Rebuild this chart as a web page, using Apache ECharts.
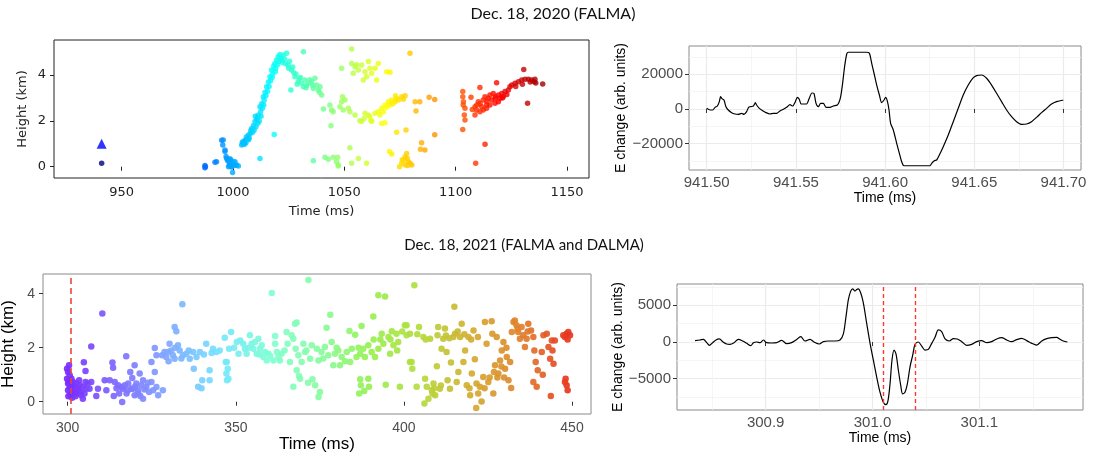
<!DOCTYPE html>
<html>
<head>
<meta charset="utf-8">
<script src="https://cdn.jsdelivr.net/npm/echarts@6/dist/echarts.min.js"></script>
<style>html,body{margin:0;padding:0;background:#fff;}#c{width:1094px;height:459px;}</style>
</head>
<body>
<div id="c"></div>
<script>
// ---------------- DATA ----------------
const title2020 = 'Dec. 18, 2020 (FALMA)';
const title2021 = 'Dec. 18, 2021 (FALMA and DALMA)';

// Panel 1: 2020 source heights [time ms, height km]
const p1Triangle = [[941.0, 1.0]];
const p1Points = [
  [941.0,0.15],
  [987.4,0.05],[987.4,-0.05],[987.6,0.0],[991.9,0.19],[992.6,0.22],
  [994.9,1.16],[995.4,0.95],[995.6,1.17],[996.4,0.73],[996.4,0.66],[996.9,0.45],[997.1,0.36],[997.6,0.26],[997.9,0.29],[998.0,0.0],[998.3,0.06],[998.6,0.35],[998.6,0.15],[999.3,0.0],[999.4,0.0],[999.8,-0.25],[1000.0,0.1],[1000.1,0.22],[1000.9,0.22],[1001.6,0.06],[1001.6,0.07],[1002.4,0.03],[999.0,0.3],[1000.5,0.05],
  [1003.9,0.95],[1004.5,1.0],[1005.0,1.1],[1005.4,1.16],[1005.8,1.05],[1006.4,1.2],[1006.9,1.38],[1007.3,1.25],[1007.8,1.45],[1008.4,1.67],[1008.8,1.5],[1009.2,1.8],[1009.9,1.97],[1010.3,1.75],[1010.6,2.05],[1011.0,2.15],[1011.4,2.26],[1011.8,2.0],[1012.1,2.62],[1012.4,2.4],[1012.9,2.75],[1013.2,2.55],[1013.6,3.06],[1014.0,2.9],[1014.4,3.25],[1015.1,3.49],[1015.5,3.3],[1015.9,3.7],[1016.6,3.93],[1016.9,3.75],[1017.3,4.22],[1017.8,4.05],[1018.3,4.4],[1018.8,4.51],[1019.2,4.3],[1019.6,4.66],[1020.3,4.8],[1020.8,4.6],[1021.3,4.75],[1021.8,4.66],[1022.6,4.88],[1023.2,4.7],[1024.1,4.95],[1024.8,4.44],[1025.4,4.6],[1026.3,4.22],[1026.8,4.35],[1027.8,3.93],[1028.3,4.05],[1029.3,3.71],[1029.8,3.85],[1030.8,3.64],[1031.6,3.49],[1032.3,3.79],[1033.0,3.55],[1033.8,3.64],[1034.5,3.8],[1035.3,3.71],[1036.1,3.42],[1036.8,3.86],[1037.6,3.57],[1038.3,3.35],[1039.1,3.49],[1039.8,3.13],
  [1004.2,1.08],[1005.2,0.98],[1006.0,1.3],[1007.0,1.18],[1008.0,1.58],[1009.5,1.6],[1010.0,2.2],[1011.2,1.9],[1012.6,2.2],[1013.8,2.7],[1014.8,3.1],[1016.2,3.5],[1017.6,3.9],[1019.0,4.15],[1020.0,4.45],[1021.0,4.9],[1022.2,4.55],[1023.6,4.5],[1025.0,4.3],[1027.3,4.1],[1028.8,3.6],[1030.3,3.9],[1032.8,3.45],[1035.8,3.55],[1038.8,3.25],
  [1026.0,3.35],[1031.6,5.02],[1018.5,1.41],[1012.1,0.36],
  [1040.6,2.52],[1043.5,2.69],[1044.3,2.48],[1045.0,2.40],[1048.0,2.62],[1048.8,2.84],[1049.2,3.06],[1050.3,2.91],[1049.5,2.48],[1051.8,2.55],[1052.5,2.40],[1054.8,2.26],[1057.8,1.99],[1059.3,2.33],[1061.5,2.18],[1062.3,1.99],[1063.8,2.33],[1066.8,1.89],[1044.0,1.79],
  [1036.1,0.26],[1041.3,0.41],[1042.8,0.33],[1045.0,0.41],[1047.0,0.41],[1046.5,0.22],[1047.3,0.03],[1047.3,0.07],[1052.5,0.83],[1053.3,0.15],[1056.3,0.36],[1060.0,0.15],
  [1053.3,5.14],[1053.3,4.51],[1054.8,4.37],[1056.3,4.22],[1057.8,4.44],[1059.3,4.15],[1060.8,4.59],[1062.3,4.08],[1063.8,4.30],[1065.3,4.51],[1058.5,3.79],[1064.5,3.79],[1048.8,4.30],[1054.0,4.08],[1060.0,3.93],[1069.0,4.15],[1070.5,4.12],[1055.5,4.45],[1061.5,4.3],[1079.5,4.95],
  [1065.3,2.40],[1066.8,2.55],[1068.3,2.69],[1069.8,2.84],[1071.3,2.91],[1073.5,2.98],[1075.8,3.06],[1077.3,3.10],[1067.6,2.40],[1066.0,2.26],[1070.5,2.69],[1072.8,2.84],[1074.3,2.91],[1060.8,2.26],[1062.0,2.01],[1057.0,2.01],[1058.9,2.11],[1068.3,1.92],[1069.0,2.6],[1071.8,2.75],[1073.0,3.1],[1076.5,2.95],
  [1081.8,2.84],[1082.2,2.43],[1083.9,2.84],[1088.1,3.03],[1090.6,2.94],[1073.5,1.50],[1077.7,1.60],[1090.6,1.40],[1084.7,1.05],[1086.2,0.73],[1084.2,0.76],[1070.3,0.66],[1071.3,0.55],
  [1075.8,0.15],[1077.3,0.44],[1078.0,0.58],[1078.8,0.22],[1077.3,0.07],[1079.5,0.15],[1076.6,0.29],[1080.3,0.07],[1078.3,0.37],[1074.8,0.0],[1078.5,0.05],[1076.0,0.3],
  [1103.2,3.28],[1103.2,3.06],[1103.5,2.84],[1104.2,2.55],[1103.9,2.26],[1104.2,2.04],[1103.2,1.63],[1103.4,2.7],[1106.9,3.03],[1108.7,2.62],[1108.7,2.26],[1110.2,2.84],[1110.9,3.46],[1111.7,2.62],[1112.4,2.91],[1113.2,3.06],[1113.9,2.69],[1114.7,2.99],[1115.4,3.13],[1116.2,2.91],[1116.9,3.20],[1117.7,2.99],[1118.4,3.67],[1119.2,3.13],[1119.9,2.99],[1120.7,3.20],[1121.4,3.06],[1122.2,3.28],[1123.7,3.35],[1124.4,3.49],[1125.2,3.57],[1126.7,3.64],[1128.2,3.71],[1129.7,3.79],[1130.6,4.25],[1131.2,3.82],[1132.7,3.82],[1134.1,3.79],[1135.3,3.71],[1132.3,2.77],[1135.6,3.82],[1139.1,3.61],[1113.2,0.98],[1109.0,0.15],[1109.4,2.48],[1110.9,2.40],[1112.4,2.48],[1113.9,2.55],[1115.4,2.69],[1117.7,2.77],[1119.2,2.84],
  [1111.0,2.75],[1114.0,2.85],[1118.0,3.05],[1121.0,3.0],[1123.0,3.15],[1127.0,3.5],[1130.0,3.6],[1133.5,3.7],[1136.0,3.65],[1109.5,2.7],[1107.5,2.5]
];
const p1XTicks = [950, 1000, 1050, 1100, 1150];
const p1YTicks = [0, 2, 4];

// Panel 2: 2020 E-change waveform
const e2020Time = [941.5000,941.5019,941.5034,941.5047,941.5060,941.5071,941.5078,941.5086,941.5097,941.5108,941.5121,941.5140,941.5159,941.5177,941.5196,941.5209,941.5224,941.5235,941.5247,941.5262,941.5273,941.5280,941.5295,941.5314,941.5333,941.5355,941.5374,941.5392,941.5411,941.5430,941.5448,941.5467,941.5482,941.5497,941.5508,941.5519,941.5529,941.5545,941.5560,941.5575,941.5590,941.5601,941.5613,941.5626,941.5639,941.5654,941.5669,941.5691,941.5710,941.5732,941.5743,941.5751,941.5762,941.5773,941.5785,941.5794,941.5897,941.5912,941.5925,941.5938,941.5953,941.5968,941.5981,941.5994,941.6003,941.6012,941.6022,941.6031,941.6046,941.6065,941.6080,941.6093,941.6106,941.6252,941.6261,941.6276,941.6289,941.6304,941.6326,941.6354,941.6382,941.6410,941.6438,941.6466,941.6491,941.6513,941.6541,941.6569,941.6597,941.6625,941.6653,941.6681,941.6709,941.6737,941.6765,941.6793,941.6821,941.6849,941.6877,941.6905,941.6933,941.6961,941.6999];
const e2020Value = [385,-577,-577,960,1730,4230,7115,5960,5190,1350,-577,-2115,-2880,-3080,-2500,-3080,-1540,960,1350,1730,3650,2300,385,-960,-2115,-2880,-2500,-2500,-1150,-190,960,2500,1730,4230,6730,5580,2880,2880,2880,6150,9230,9040,3270,1350,3270,3270,960,960,1730,2300,4230,7115,14800,24400,31700,32700,32700,32100,26300,20600,13800,8080,3650,5190,6730,4800,-577,-8270,-12100,-19800,-25600,-30400,-32700,-32700,-31300,-29800,-29400,-26500,-21700,-15000,-7300,385,8080,13800,17700,19200,19600,17700,13800,9040,4230,-577,-4420,-7300,-8850,-8650,-7300,-4810,-2115,385,2880,4230,5190];
const p2XMajor = [941.50, 941.55, 941.60, 941.65, 941.70];
const p2XMinor = [941.525, 941.575, 941.625, 941.675];
const p2YMajor = [-20000, 0, 20000];
const p2YMinor = [-30000, -10000, 10000, 30000];

// Panel 3: 2021 source heights
const p3Points = [
  [300.4,1.35],[299.8,1.22],[300.1,1.10],[300.6,0.98],[299.8,0.85],[301.1,0.85],[300.1,0.67],[301.6,0.73],[302.6,0.67],[303.6,0.61],[302.1,0.48],[303.1,0.42],[304.5,0.54],[300.1,0.42],[301.1,0.30],[302.6,0.30],[304.0,0.24],[305.0,0.30],[305.5,0.48],[300.6,0.54],[301.6,0.36],[304.5,0.11],[306.0,0.67],[307.0,0.73],[306.5,0.48],[303.4,0.79],[305.3,0.73],[300.2,0.2],[300.8,0.25],[301.9,0.55],[302.9,0.5],[300.3,0.75],[300.9,0.62],[303.9,0.35],[301.3,0.15],[302.3,0.2],
  [310.3,3.27],[307.0,2.04],[304.8,1.46],[305.3,1.14],[309.0,0.48],[308.5,0.21],[311.0,0.79],[311.5,0.42],
  [313.3,1.45],[313.5,1.26],[312.5,0.79],[314.0,0.73],[315.0,0.61],[316.0,0.54],[313.7,0.21],[316.2,-0.01],[317.4,1.68],[317.0,0.61],[317.9,0.42],[318.6,1.10],[319.2,0.88],[319.4,0.48],[319.9,1.35],[320.4,0.67],[320.9,0.42],[321.4,1.04],[321.9,0.61],[322.4,0.79],[322.4,0.11],[323.4,0.54],[324.2,0.36],[324.9,0.73],[325.9,1.10],[325.4,0.42],[326.4,0.54],[326.9,0.24],[328.3,0.42],[324.9,1.47],[325.9,1.99],[326.4,1.72],[318.9,0.48],[318.0,0.67],[316.4,0.48],[315.3,0.30],[319.9,0.24],[321.6,0.21],[314.5,0.5],[320.0,0.55],[322.8,0.45],[323.8,0.7],[321.0,0.3],[317.5,0.3],
  [328.1,1.72],[328.8,1.84],[329.3,1.66],[330.3,2.15],[330.8,1.90],[331.3,1.72],[331.8,2.77],[332.3,2.61],[332.8,2.09],[333.3,1.90],[334.1,3.61],[334.3,1.72],[335.3,1.78],[336.3,1.59],[337.3,1.84],[338.3,1.66],[339.3,1.84],[337.5,1.22],[338.8,0.55],[340.0,0.79],[342.2,0.79],[342.2,1.16],[341.2,2.15],[343.2,1.96],[344.2,1.84],[345.2,1.90],[346.7,2.37],[347.0,1.47],[347.2,1.04],[347.4,0.79],[329.8,1.84],[331.8,1.59],[330.0,1.5],[332.0,2.0],[333.8,1.6],[336.0,1.9],[340.5,1.75],[342.8,1.8],[339.8,0.5],
  [347.3,1.47],[347.6,1.22],[347.8,0.85],[348.0,1.96],[348.6,2.58],[350.3,2.21],[350.8,1.78],[351.3,2.27],[352.2,2.15],[352.7,1.96],[353.2,1.78],[354.2,2.46],[354.7,2.15],[355.2,1.96],[355.7,2.21],[356.2,1.78],[356.7,2.33],[357.2,1.96],[357.7,2.09],[358.2,1.66],[358.7,1.84],[359.2,1.53],[359.7,1.78],[360.7,4.03],[361.2,1.53],[361.7,2.43],[361.7,2.15],[362.2,1.84],[362.7,1.66],[363.1,1.53],[363.6,1.78],[365.1,2.58],[365.4,2.15],[366.1,1.47],[366.6,2.46],[367.1,2.33],[367.6,2.89],[368.1,2.93],[367.8,1.96],[368.6,1.72],[368.1,1.16],[367.1,0.55],[369.1,0.85],[369.6,1.47],[370.1,2.15],[370.6,1.84],[371.6,4.51],[372.1,1.59],[372.6,2.09],[372.8,0.83],[373.6,0.61],[374.1,1.96],[374.6,1.53],[375.0,0.36],[374.6,0.17],[375.5,1.84],[376.5,2.03],[377.0,2.74],[377.5,1.72],[378.1,3.22],[378.5,2.21],[379.0,1.35],[379.5,1.78],[380.5,1.90],[381.0,1.35],[381.5,1.66],[383.0,1.84],[383.8,2.62],[384.0,1.47],[384.5,1.96],[385.5,2.48],[385.9,1.66],[387.0,1.78],[387.4,2.80],[387.0,0.83],[387.2,0.61],[386.7,0.30],[389.4,0.85],[389.6,0.55],[387.9,1.96],[388.4,1.66],[389.4,2.09],[390.4,1.84],[390.9,3.16],[391.4,1.66],[392.4,3.94],[392.4,1.96],[393.4,2.52],[393.9,2.15],[394.4,3.90],[394.6,0.63],[395.4,2.40],[395.9,1.78],[396.4,2.61],[396.9,2.09],[397.8,2.52],[398.3,2.21],[398.8,0.55],[400.3,2.83],[400.8,2.46],[401.8,1.47],
  [349.5,2.0],[353.8,2.0],[357.0,1.75],[360.2,1.7],[364.5,1.9],[371.0,1.9],[376.0,1.6],[380.0,2.0],[382.5,1.5],[386.5,2.0],[391.0,2.3],[393.0,2.3],[396.0,2.3],[398.0,1.9],[399.5,2.6],[368.8,0.95],[371.5,0.7],[388.2,0.4],
  [403.1,4.31],[415.0,3.52],[400.8,2.83],[401.8,2.52],[402.3,1.47],[402.5,1.22],[403.8,0.55],[404.5,2.77],[405.8,2.40],[406.3,0.85],[406.8,0.55],[407.3,0.11],[406.1,-0.07],[407.8,2.33],[408.3,0.42],[408.8,0.67],[409.3,0.24],[409.8,1.31],[410.0,2.46],[410.2,2.77],[410.7,0.48],[411.2,1.96],[411.7,2.33],[412.2,2.71],[412.7,1.84],[413.0,0.79],[413.7,0.48],[414.0,1.45],[414.7,2.40],[415.2,2.52],[415.7,0.73],[416.2,1.10],[416.7,2.40],[417.2,2.89],[417.7,1.47],[418.2,1.90],[418.7,0.61],[419.2,2.40],[419.7,0.24],[420.2,1.04],[420.7,2.64],[421.1,1.57],[421.5,-0.23],[421.6,0.67],[422.1,0.30],[422.6,0.55],[423.1,0.01],[423.6,0.91],[424.1,2.95],[424.6,2.15],[425.1,0.73],[426.1,2.98],[426.3,2.52],[426.6,0.30],[427.1,1.35],[427.6,2.40],[428.1,1.04],[428.6,1.53],[429.1,1.90],[429.6,2.21],[430.1,1.22],[430.6,1.66],[431.1,0.79],[431.6,1.47],[431.9,0.51],[432.1,2.58],[432.6,2.95],[433.0,3.01],[433.5,2.83],[434.0,2.58],[434.5,2.33],[435.0,2.77],[435.5,2.46],[436.0,2.03],[436.5,2.33],[437.0,2.89],[437.8,2.64],[438.5,2.40],[438.8,1.90],[439.2,1.47],[439.8,1.16],[438.5,0.73],[439.5,0.55],[441.0,1.84],[441.5,2.46],[442.5,2.52],[443.0,2.03],[443.5,1.59],[443.7,0.21],[444.0,2.27],[444.5,1.41],[444.9,2.27],[447.4,2.46],[447.9,2.40],[448.4,2.52],[448.9,2.58],[449.4,2.46],[448.1,0.85],[448.4,0.61],[448.7,0.42],[447.9,0.73],
  [404.0,2.5],[406.5,2.3],[408.5,0.3],[409.0,0.5],[411.0,0.6],[412.5,2.45],[413.5,2.35],[416.0,2.6],[418.0,2.5],[419.5,0.5],[420.0,2.3],[422.0,2.4],[424.0,0.5],[425.5,0.9],[426.8,1.1],[427.8,0.9],[429.0,1.3],[429.8,0.9],[430.5,2.0],[433.8,2.7],[436.8,2.6],[441.3,1.0],[444.2,1.9],[448.7,2.3]
];
const p3XTicks = [300, 350, 400, 450];
const p3YTicks = [0, 2, 4];
const p3Dashed = [301.0];

// Panel 4: 2021 E-change waveform
const e2021Time = [300.8339,300.8385,300.8417,300.8448,300.8473,300.8504,300.8535,300.8566,300.8598,300.8635,300.8666,300.8704,300.8744,300.8785,300.8822,300.8860,300.8885,300.8916,300.8947,300.8978,300.9009,300.9056,300.9103,300.9150,300.9197,300.9243,300.9284,300.9328,300.9368,300.9415,300.9452,300.9502,300.9540,300.9587,300.9649,300.9696,300.9727,300.9752,300.9774,300.9796,300.9814,300.9836,300.9852,300.9867,300.9889,300.9914,300.9945,300.9977,301.0008,301.0039,301.0070,301.0101,301.0126,301.0145,301.0164,301.0182,301.0201,301.0220,301.0242,301.0264,301.0282,301.0304,301.0326,301.0351,301.0376,301.0398,301.0429,301.0460,301.0491,301.0523,301.0554,301.0585,301.0616,301.0647,301.0679,301.0719,301.0757,301.0794,301.0835,301.0881,301.0928,301.0975,301.1022,301.1069,301.1115,301.1162,301.1209,301.1256,301.1303,301.1349,301.1396,301.1443,301.1490,301.1537,301.1584,301.1630,301.1677,301.1724,301.1755,301.1786,301.1824];
const e2021Value = [183,275,367,-92,-459,-92,275,413,46,-275,-321,-92,367,138,-183,-505,-92,0,-92,275,-92,-138,-92,229,-229,-92,275,734,138,367,0,-275,46,138,138,275,1100,3490,5780,6930,7250,6930,7160,7250,6700,5320,2570,-183,-2480,-4770,-6830,-8210,-8530,-7980,-5690,-2480,-1100,-1650,-3850,-5920,-7060,-6830,-5690,-3390,-1790,-321,0,-550,-1100,-1010,-183,642,1650,1420,413,138,459,413,46,-459,-321,46,183,-92,46,413,596,275,46,321,505,183,-183,-413,138,459,596,642,367,138,0];
const p4XMajor = [300.9, 301.0, 301.1];
const p4XMinor = [300.85, 300.95, 301.05, 301.15];
const p4YMajor = [-5000, 0, 5000];
const p4YMinor = [-7500, -2500, 2500, 7500];
const p4Dashed = [301.0076, 301.0376];

// ---------------- STYLE / BUILD ----------------
const FG = 'Liberation Sans, Arial, Helvetica, sans-serif';
const FM = 'DejaVu Sans, sans-serif';
const zip = (a, b) => a.map((v, i) => [v, b[i]]);
const minus = v => String(v).replace('-', '\u2212');
const plain = v => String(v);

function mplX(min, max, ticks, name) {
  return { type:'value', gridIndex:0, min, max, axisLine:{show:false},
    axisTick:{customValues:ticks, length:4, lineStyle:{color:'#222'}},
    axisLabel:{customValues:ticks, fontSize:13, color:'#222', margin:8, fontFamily:FM, formatter:plain},
    splitLine:{show:false}, name, nameLocation:'middle', nameGap:27,
    nameTextStyle:{fontSize:13, color:'#222', fontFamily:FM} };
}
function mplY(min, max, ticks, name) {
  return { type:'value', gridIndex:0, min, max, axisLine:{show:false},
    axisTick:{customValues:ticks, length:4, lineStyle:{color:'#222'}},
    axisLabel:{customValues:ticks, fontSize:13, color:'#222', margin:8, fontFamily:FM, formatter:plain},
    splitLine:{show:false}, name, nameLocation:'middle', nameGap:25,
    nameTextStyle:{fontSize:13, color:'#222', fontFamily:FM} };
}
function ggMain(gi, min, max, ticks, fmt, name, gap, labelSize, nameSize, grid, margin) {
  return { type:'value', gridIndex:gi, min, max, axisLine:{show:false},
    axisTick:{customValues:ticks, length:4, lineStyle:{color:'#333'}},
    axisLabel:{customValues:ticks, fontSize:labelSize, color:'#4d4d4d', margin:margin, fontFamily:FG, formatter:fmt},
    splitLine:{show:grid, lineStyle:{color:'#ebebeb', width:1.2}},
    name, nameLocation:'middle', nameGap:gap,
    nameTextStyle:{fontSize:nameSize, color:'#000', fontFamily:FG} };
}
function ggMinor(gi, min, max, ticks) {
  return { type:'value', gridIndex:gi, min, max, axisLine:{show:false},
    axisTick:{show:false, customValues:ticks}, axisLabel:{show:false, customValues:ticks},
    splitLine:{show:true, lineStyle:{color:'#f3f3f3', width:0.8}} };
}
const gridBase = {show:true, borderWidth:1, backgroundColor:'transparent', outerBoundsMode:'none', containLabel:false};

const option = {
  animation:false,
  backgroundColor:'#fff',
  title:[
    {text:title2020, left:548, top:1, textAlign:'center', textStyle:{fontSize:16, fontWeight:'normal', color:'#111', fontFamily:'Lato, sans-serif'}},
    {text:title2021, left:519, top:233, textAlign:'center', textStyle:{fontSize:15, fontWeight:'normal', color:'#111', fontFamily:'Lato, sans-serif'}}
  ],
  grid:[
    Object.assign({left:54, top:40, width:535, height:138, borderColor:'#222'}, gridBase),
    Object.assign({left:689, top:46, width:392, height:124, borderColor:'#8a8a8a'}, gridBase),
    Object.assign({left:43, top:274, width:548, height:140, borderColor:'#8a8a8a'}, gridBase),
    Object.assign({left:677, top:284, width:406, height:126, borderColor:'#8a8a8a'}, gridBase)
  ],
  xAxis:[
    mplX(919.6, 1159.9, p1XTicks, 'Time (ms)'),
    ggMain(1, 941.4901, 941.7098, p2XMajor, v => v.toFixed(2), 'Time (ms)', 21, 15, 14, true, 5),
    ggMinor(1, 941.4901, 941.7098, p2XMinor),
    ggMain(2, 292.65, 455.65, p3XTicks, plain, 'Time (ms)', 22, 14, 17, false, 7),
    ggMain(3, 300.817, 301.197, p4XMajor, v => v.toFixed(1), 'Time (ms)', 21, 15, 14, true, 5),
    ggMinor(3, 300.817, 301.197, p4XMinor)
  ],
  yAxis:[
    mplY(-0.493, 5.533, p1YTicks, 'Height (km)'),
    ggMain(1, -35159, 36311, p2YMajor, minus, 'E change (arb. units)', 51, 15, 14, true, 6),
    ggMinor(1, -35159, 36311, p2YMinor),
    ggMain(2, -0.456, 4.73, p3YTicks, plain, 'Height (km)', 13, 14, 17, false, 8),
    ggMain(3, -9264, 7902, p4YMajor, minus, 'E change (arb. units)', 48, 15, 14, true, 6),
    ggMinor(3, -9264, 7902, p4YMinor)
  ],
  visualMap:[
    {type:'continuous', show:false, seriesIndex:0, dimension:0, min:941, max:1145,
     inRange:{color:['#00007f','#0000ff','#007fff','#00ffff','#7fff7f','#ffff00','#ff7f00','#ff0000','#7f0000']}},
    {type:'continuous', show:false, seriesIndex:3, dimension:0, min:300, max:450,
     inRange:{color:['#7a2cff','#7f6bff','#80a8ff','#74e4ff','#80ffd4','#88fca0','#98f050','#b4dc3c','#d4ac30','#e0802c','#e8321e']}}
  ],
  series:[
    {type:'scatter', xAxisIndex:0, yAxisIndex:0, data:p1Points, symbolSize:5.5, itemStyle:{opacity:0.8}},
    {type:'scatter', xAxisIndex:0, yAxisIndex:0, data:p1Triangle, symbol:'triangle', symbolSize:10, itemStyle:{color:'#0000ff'}},
    {type:'line', xAxisIndex:1, yAxisIndex:1, data:zip(e2020Time, e2020Value), showSymbol:false, smooth:0.25,
     lineStyle:{color:'#000', width:1.2}},
    {type:'scatter', xAxisIndex:3, yAxisIndex:3, data:p3Points, symbolSize:6.5, itemStyle:{opacity:0.92},
     markLine:{silent:true, symbol:'none', label:{show:false}, lineStyle:{color:'#e8463c', type:[6,4], width:1.6, opacity:1},
       data:p3Dashed.map(v => ({xAxis:v}))}},
    {type:'line', xAxisIndex:4, yAxisIndex:4, data:zip(e2021Time, e2021Value), showSymbol:false, smooth:0.3,
     lineStyle:{color:'#000', width:1.2}}
  ]
};
// dashed markers in panel 4 on their own series so they keep their colour
option.series.push({type:'line', xAxisIndex:4, yAxisIndex:4, data:[], showSymbol:false,
  markLine:{silent:true, symbol:'none', label:{show:false}, lineStyle:{color:'#ff3b2f', type:[4,3], width:1.4, opacity:1},
    data:p4Dashed.map(v => ({xAxis:v}))}});
const chart = echarts.init(document.getElementById('c'), null, {renderer:'canvas'});
chart.setOption(option);
</script>
</body>
</html>
